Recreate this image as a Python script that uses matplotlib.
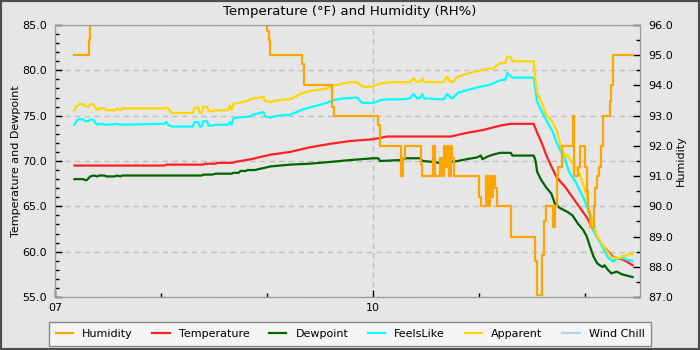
import matplotlib
matplotlib.use("Agg")
import matplotlib.pyplot as plt
from matplotlib.ticker import FixedLocator, MultipleLocator, FuncFormatter
from matplotlib.patches import Rectangle

# readings, times as HH:MM
hum_time = ["07:11", "07:19", "07:20", "09:00", "09:01", "09:02", "09:20", "09:21", "09:37", "09:38",
            "10:03", "10:04", "10:16", "10:17", "10:18", "10:27", "10:28", "10:34", "10:35", "10:38",
            "10:39", "10:40", "10:41", "10:42", "10:43", "10:44", "10:45", "10:46", "11:00", "11:01",
            "11:04", "11:05", "11:06", "11:07", "11:08", "11:09", "11:10", "11:18", "11:32", "11:33",
            "11:36", "11:37", "11:38", "11:42", "11:43", "11:44", "11:45", "11:47", "11:53", "11:54",
            "11:56", "11:57", "12:00", "12:01", "12:02", "12:03", "12:05", "12:06", "12:07", "12:08",
            "12:09", "12:10", "12:14", "12:15", "12:16", "12:27"]
humidity = [95.0, 95.5, 97.0, 95.8, 95.5, 95.0, 94.7, 94.0, 93.3, 93.0,
            92.7, 92.0, 91.0, 91.6, 92.0, 91.4, 91.0, 92.0, 91.0, 91.6,
            91.0, 92.0, 91.3, 92.0, 91.0, 92.0, 91.6, 91.0, 90.3, 90.0,
            91.0, 90.0, 91.0, 90.3, 91.0, 90.6, 90.0, 89.0, 88.2, 87.05,
            88.4, 89.5, 90.0, 89.3, 90.0, 91.0, 91.3, 92.0, 93.0, 91.0,
            91.3, 92.0, 91.3, 90.5, 89.8, 89.3, 90.0, 90.6, 91.0, 91.3,
            92.0, 93.0, 93.5, 94.0, 95.0, 95.0]

temp_time = ["07:11", "08:02", "08:03", "08:24", "08:25", "08:31", "08:32", "08:41", "08:42", "08:45",
             "08:51", "09:02", "09:13", "09:24", "09:36", "09:47", "10:00", "10:08", "10:44", "10:53",
             "11:02", "11:12", "11:18", "11:31", "11:33", "11:36", "11:38", "11:41", "11:44", "11:49",
             "11:53", "11:57", "12:01", "12:04", "12:07", "12:10", "12:16", "12:22", "12:27"]
temperature = [69.5, 69.5, 69.6, 69.6, 69.7, 69.7, 69.8, 69.8, 69.9, 70.0,
               70.2, 70.7, 71.0, 71.5, 71.9, 72.2, 72.4, 72.7, 72.7, 73.1,
               73.4, 73.9, 74.1, 74.1, 73.1, 71.8, 70.7, 69.4, 68.2, 67.1,
               66.0, 64.9, 63.8, 62.7, 61.6, 60.7, 59.4, 59.1, 58.5]

dew_time = ["07:11", "07:16", "07:17", "07:18", "07:19", "07:20", "07:22", "07:24", "07:25", "07:28",
            "07:29", "07:34", "07:35", "07:37", "07:38", "08:23", "08:24", "08:29", "08:31", "08:40",
            "08:41", "08:44", "08:45", "08:48", "08:49", "08:53", "09:02", "09:13", "09:24", "09:36",
            "09:47", "10:00", "10:03", "10:04", "10:15", "10:16", "10:18", "10:27", "10:28", "10:34",
            "10:37", "10:40", "10:44", "10:48", "10:53", "10:59", "11:01", "11:02", "11:05", "11:08",
            "11:12", "11:18", "11:19", "11:31", "11:32", "11:33", "11:35", "11:38", "11:41", "11:43",
            "11:46", "11:50", "11:53", "11:56", "11:59", "12:01", "12:03", "12:05", "12:07", "12:10",
            "12:11", "12:13", "12:15", "12:18", "12:21", "12:27"]
dewpoint = [68.0, 68.0, 67.9, 67.9, 68.1, 68.3, 68.4, 68.3, 68.4, 68.4,
            68.3, 68.3, 68.4, 68.3, 68.4, 68.4, 68.5, 68.5, 68.6, 68.6,
            68.7, 68.7, 68.9, 68.9, 69.0, 69.0, 69.4, 69.6, 69.7, 69.9,
            70.1, 70.3, 70.3, 70.0, 70.1, 69.9, 70.3, 70.3, 70.0, 69.9,
            69.8, 69.9, 69.9, 70.0, 70.2, 70.4, 70.6, 70.2, 70.5, 70.7,
            70.9, 70.9, 70.6, 70.6, 70.1, 68.8, 68.0, 67.1, 66.4, 65.3,
            64.8, 64.4, 64.0, 63.1, 62.4, 61.7, 60.5, 59.4, 58.7, 58.3,
            58.5, 58.0, 57.6, 57.8, 57.5, 57.2]

feels_time = ["07:11", "07:12", "07:13", "07:16", "07:17", "07:19", "07:20", "07:22", "07:23", "07:24",
              "07:25", "07:29", "07:35", "07:37", "08:02", "08:03", "08:04", "08:06", "08:18", "08:19",
              "08:21", "08:22", "08:23", "08:24", "08:26", "08:27", "08:29", "08:31", "08:38", "08:39",
              "08:40", "08:41", "08:44", "08:50", "08:52", "08:56", "08:58", "08:59", "09:02", "09:06",
              "09:13", "09:17", "09:19", "09:24", "09:34", "09:37", "09:43", "09:51", "09:54", "10:00",
              "10:04", "10:08", "10:15", "10:21", "10:23", "10:25", "10:27", "10:28", "10:29", "10:40",
              "10:42", "10:44", "10:45", "10:48", "10:53", "11:01", "11:06", "11:12", "11:15", "11:16",
              "11:19", "11:31", "11:32", "11:33", "11:36", "11:39", "11:42", "11:44", "11:46", "11:49",
              "11:51", "11:55", "11:59", "12:02", "12:04", "12:07", "12:10", "12:13", "12:16", "12:18",
              "12:21", "12:24", "12:27"]
feelslike = [74.0, 74.3, 74.6, 74.6, 74.4, 74.4, 74.6, 74.5, 74.2, 74.0,
             74.1, 74.0, 74.1, 74.0, 74.1, 74.3, 74.0, 73.8, 73.8, 74.3,
             74.3, 73.8, 73.8, 74.4, 74.4, 73.9, 73.9, 74.0, 74.0, 74.3,
             74.0, 74.7, 74.8, 74.9, 75.1, 75.3, 75.4, 74.9, 74.8, 75.0,
             75.1, 75.4, 75.6, 75.9, 76.4, 76.7, 76.9, 77.0, 76.4, 76.4,
             76.7, 76.8, 76.8, 76.9, 77.4, 76.9, 77.0, 77.4, 76.9, 76.8,
             77.4, 77.0, 76.9, 77.5, 77.8, 78.2, 78.4, 78.9, 79.0, 79.7,
             79.2, 79.2, 77.8, 76.5, 75.3, 74.2, 73.1, 72.0, 71.2, 70.1,
             68.8, 67.6, 66.0, 64.6, 62.7, 61.6, 60.5, 59.4, 58.9, 59.3,
             59.3, 59.1, 59.0]

app_time = ["07:11", "07:12", "07:14", "07:16", "07:17", "07:19", "07:20", "07:22", "07:23", "07:24",
            "07:25", "07:28", "07:29", "07:34", "07:35", "07:37", "07:38", "08:02", "08:03", "08:04",
            "08:06", "08:18", "08:19", "08:21", "08:22", "08:23", "08:24", "08:26", "08:27", "08:29",
            "08:31", "08:38", "08:39", "08:40", "08:41", "08:44", "08:46", "08:50", "08:52", "08:56",
            "08:58", "08:59", "09:02", "09:06", "09:13", "09:17", "09:19", "09:24", "09:34", "09:37",
            "09:47", "09:51", "09:54", "10:00", "10:03", "10:06", "10:10", "10:21", "10:23", "10:25",
            "10:27", "10:28", "10:29", "10:40", "10:42", "10:44", "10:45", "10:48", "10:53", "11:01",
            "11:05", "11:08", "11:12", "11:15", "11:16", "11:18", "11:19", "11:31", "11:32", "11:33",
            "11:36", "11:38", "11:41", "11:44", "11:47", "11:49", "11:50", "11:54", "11:57", "11:59",
            "12:01", "12:03", "12:05", "12:07", "12:11", "12:15", "12:17", "12:20", "12:21", "12:24",
            "12:25", "12:27"]
apparent = [75.6, 76.0, 76.3, 76.3, 76.0, 76.0, 76.3, 76.2, 75.8, 75.6,
            75.8, 75.8, 75.6, 75.6, 75.8, 75.6, 75.8, 75.8, 75.9, 75.8,
            75.3, 75.3, 75.9, 75.9, 75.3, 75.3, 76.0, 76.0, 75.5, 75.5,
            75.6, 75.6, 76.1, 75.6, 76.3, 76.4, 76.5, 76.7, 76.9, 77.0,
            77.1, 76.6, 76.5, 76.7, 76.8, 77.2, 77.4, 77.7, 78.0, 78.3,
            78.7, 78.7, 78.2, 78.2, 78.5, 78.6, 78.7, 78.7, 79.1, 78.7,
            78.8, 79.1, 78.7, 78.7, 79.3, 78.7, 78.7, 79.3, 79.6, 80.0,
            80.2, 80.2, 80.8, 80.8, 81.5, 81.5, 81.0, 81.0, 78.9, 77.5,
            76.2, 75.1, 74.5, 73.4, 71.2, 70.5, 70.7, 69.4, 68.6, 67.5,
            66.1, 64.2, 62.8, 61.7, 60.5, 59.4, 59.3, 59.3, 59.5, 59.6,
            59.8, 59.7]

# wind chill not reported
chill_time = []
windchill = []


def hours(ts):
    return [int(s[:2]) + int(s[3:]) / 60 for s in ts]


bg = "#e6e6e6"
fig = plt.figure(figsize=(7, 3.5), dpi=100, facecolor=bg)
ax = fig.add_axes([55 / 700, 1 - 297 / 350, 585 / 700, 272 / 350])
ax2 = ax.twinx()
ax.set_facecolor(bg)

lw = 1.6
h1, = ax2.plot(hours(hum_time), humidity, color="#FFA500", lw=lw, drawstyle="steps-post", label="Humidity")
h2, = ax.plot(hours(temp_time), temperature, color="#FF2020", lw=lw, label="Temperature")
h3, = ax.plot(hours(dew_time), dewpoint, color="#006400", lw=lw, label="Dewpoint")
h4, = ax.plot(hours(feels_time), feelslike, color="#00FFFF", lw=lw, label="FeelsLike")
h5, = ax.plot(hours(app_time), apparent, color="#FFD700", lw=lw, label="Apparent")
h6, = ax.plot(hours(chill_time), windchill, color="#ADD8E6", lw=lw, label="Wind Chill")

ax.set_xlim(7, 12.52)
ax.set_ylim(55, 85)
ax2.set_ylim(87, 96)

ax.xaxis.set_major_locator(FixedLocator([7, 10]))
ax.xaxis.set_minor_locator(MultipleLocator(1))
ax.xaxis.set_major_formatter(FuncFormatter(lambda v, p: "%02d" % round(v)))
ax.yaxis.set_major_locator(MultipleLocator(5))
ax.yaxis.set_minor_locator(MultipleLocator(1))
ax.yaxis.set_major_formatter(FuncFormatter(lambda v, p: "%.1f" % v))
ax2.yaxis.set_major_locator(MultipleLocator(1))
ax2.yaxis.set_minor_locator(MultipleLocator(0.5))
ax2.yaxis.set_major_formatter(FuncFormatter(lambda v, p: "%.1f" % v))

for a in (ax, ax2):
    a.tick_params(which="both", direction="in", labelsize=8, color="black")
    a.tick_params(which="major", length=5, width=1)
    a.tick_params(which="minor", length=3, width=1)
    for s in a.spines.values():
        s.set_color("#999999")
ax.tick_params(axis="y", pad=6)
ax2.tick_params(axis="y", pad=6)
ax.tick_params(axis="x", pad=4)

ax.grid(True, which="major", color="#c0c0c0", linestyle=(0, (4, 3)), linewidth=1)
ax.set_axisbelow(True)

ax.set_ylabel("Temperature and Dewpoint", fontsize=8, labelpad=1)
ax2.set_ylabel("Humidity", fontsize=8, labelpad=2)
fig.text(0.5, 1 - 12 / 350, "Temperature (°F) and Humidity (RH%)", ha="center", va="center", fontsize=9.5)

leg = fig.legend([h1, h2, h3, h4, h5, h6], [h.get_label() for h in (h1, h2, h3, h4, h5, h6)],
                 loc="center", bbox_to_anchor=(0.5, 1 - 334 / 350), ncol=6, fontsize=8,
                 frameon=True, fancybox=False, framealpha=1, handlelength=1.55,
                 handletextpad=0.8, columnspacing=1.8, borderpad=0.6)
leg.get_frame().set_facecolor("#f5f5f5")
leg.get_frame().set_edgecolor("#888888")

fig.patches.append(Rectangle((0, 0), 1, 1, transform=fig.transFigure, fill=False,
                             edgecolor="#4d4d4d", linewidth=3))

fig.savefig("out.png", dpi=100, facecolor=bg)
